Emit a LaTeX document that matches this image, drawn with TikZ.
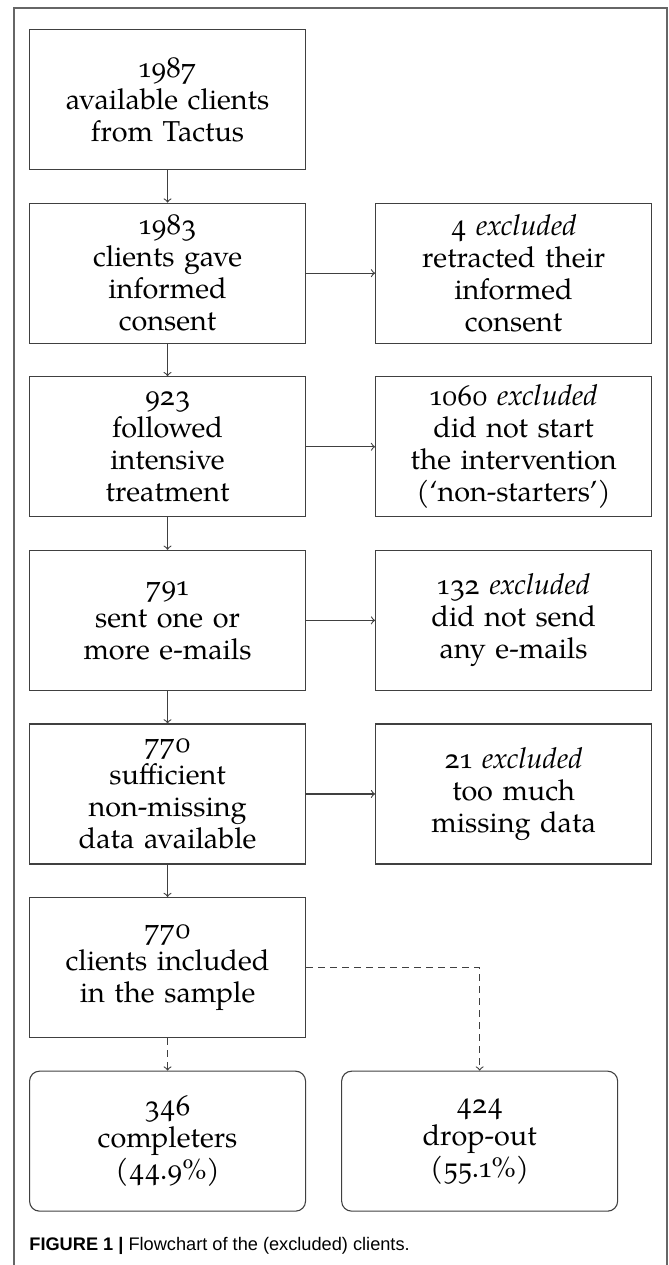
\documentclass[tikz,border=0pt]{standalone}
\usepackage{fontspec}
\setmainfont{TeX Gyre Pagella}[Numbers=OldStyle]
\newfontfamily\captionfont{Liberation Sans}
\usetikzlibrary{positioning}
\tikzset{
    flow-box/.style = {draw=black!75, line width=0.55pt, rectangle, align=center, text width=130pt, minimum width=138pt, minimum height=70pt, inner xsep=4pt, inner ysep=1pt, font=\fontsize{14.4}{16}\selectfont},
    flow-box-round/.style = {flow-box, rounded corners=5pt},
    flow-arrow/.style = {->, draw=black!75, line width=0.55pt},
    flow-dashed/.style = {flow-arrow, dash pattern=on 3.5pt off 2.5pt},
    figure-frame/.style = {draw=black!60, line width=0.6pt},
}

\begin{document}
\begin{tikzpicture}[x=0.5pt, y=-0.5pt]
\useasboundingbox (0,0) rectangle (669,1265);
\draw[figure-frame] (14,1265) -- (14,8) -- (667,8) -- (667,1265);

% main column
\node[flow-box, anchor=north west] (available) at (29,29) {1987\\available clients\\from Tactus};
\node[flow-box, below=16.25pt of available] (consent) {1983\\clients gave\\informed\\consent};
\node[flow-box, below=16.25pt of consent] (intensive) {923\\followed\\intensive\\treatment};
\node[flow-box, below=16.25pt of intensive] (emails) {791\\sent one or\\more e-mails};
\node[flow-box, below=16.25pt of emails] (sufficient) {770\\sufficient\\non-missing\\data available};
\node[flow-box, below=16.25pt of sufficient] (sample) {770\\clients included\\in the sample};

% excluded column
\node[flow-box, right=34.5pt of consent] (retracted) {4 \textit{excluded}\\retracted their\\informed\\consent};
\node[flow-box, right=34.5pt of intensive] (nonstart) {1060 \textit{excluded}\\did not start\\the intervention\\(`non-starters')};
\node[flow-box, right=34.5pt of emails] (nosend) {132 \textit{excluded}\\did not send\\any e-mails};
\node[flow-box, right=34.5pt of sufficient] (missing) {21 \textit{excluded}\\too much\\missing data};

% outcome
\node[flow-box-round, below=16.25pt of sample] (completers) {346\\completers\\(44.9\%)};
\node[flow-box-round, right=17.5pt of completers] (dropout) {424\\drop-out\\(55.1\%)};

\draw[flow-arrow] (available) -- (consent);
\draw[flow-arrow] (consent) -- (intensive);
\draw[flow-arrow] (intensive) -- (emails);
\draw[flow-arrow] (emails) -- (sufficient);
\draw[flow-arrow] (sufficient) -- (sample);
\draw[flow-arrow] (consent) -- (retracted);
\draw[flow-arrow] (intensive) -- (nonstart);
\draw[flow-arrow] (emails) -- (nosend);
\draw[flow-arrow] (sufficient) -- (missing);
\draw[flow-dashed] (sample) -- (completers);
\draw[flow-dashed] (sample.east) -| (dropout.north);

\node[anchor=west, inner sep=0pt, font=\captionfont\fontsize{9.1}{11}\selectfont] (caption) at (29,1246) {\textbf{FIGURE 1 |} Flowchart of the (excluded) clients.};
\end{tikzpicture}
\end{document}
